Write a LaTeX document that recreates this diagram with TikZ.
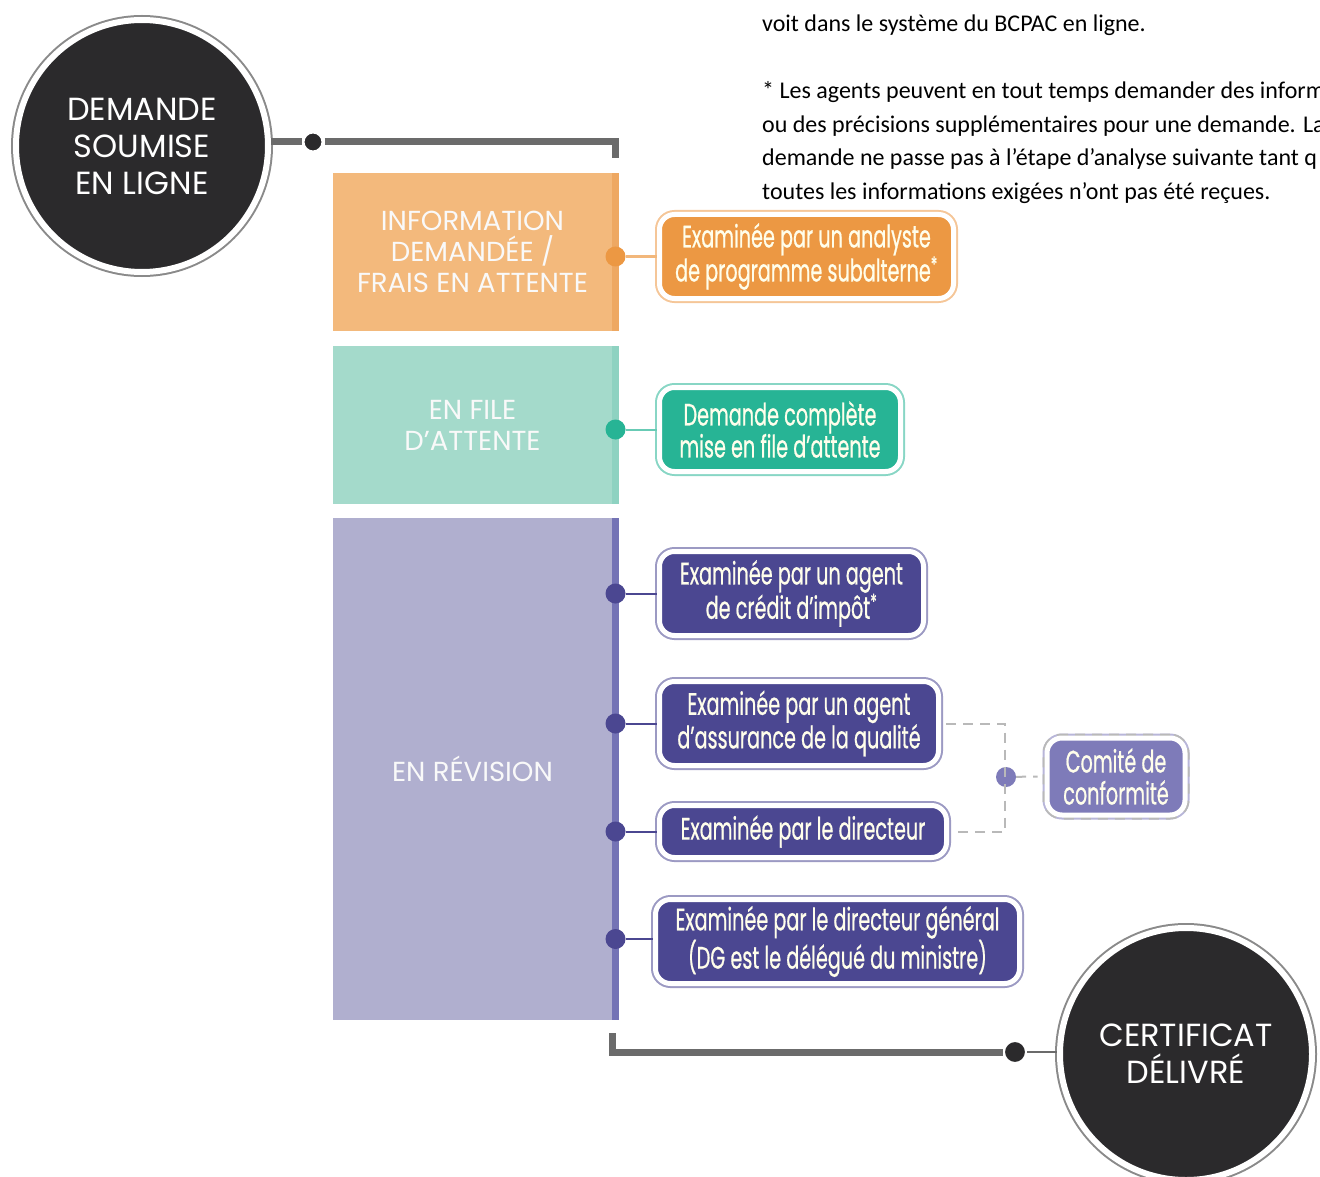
\documentclass[tikz,border=0pt]{standalone}
\usepackage{fontspec}
\setmainfont{Carlito}
\newfontfamily\headfont{Poppins}
\newfontfamily\boxfont[FakeStretch=0.62, FakeBold=0.6]{Poppins}
\usetikzlibrary{positioning}
\definecolor{DarkGrey}{HTML}{2B2A2C}
\definecolor{LineGrey}{HTML}{6B6B6B}
\definecolor{RingGrey}{HTML}{8A8A8A}
\definecolor{OrangeLight}{HTML}{F3B97C}
\definecolor{OrangeStripe}{HTML}{EEA862}
\definecolor{OrangeDark}{HTML}{EC9843}
\definecolor{TealLight}{HTML}{A4DACB}
\definecolor{TealStripe}{HTML}{8ED2C1}
\definecolor{TealDark}{HTML}{27B495}
\definecolor{PurpleLight}{HTML}{B0AFCF}
\definecolor{PurpleStripe}{HTML}{7473B5}
\definecolor{PurpleDark}{HTML}{4B4791}
\definecolor{PurpleMid}{HTML}{7E7BB9}
\tikzset{
	bigcircle/.style={circle, fill=DarkGrey, minimum size=252pt, inner sep=0pt,
		draw=white, line width=6pt, preaction={draw=RingGrey, line width=10pt},
		text=white, align=center, font=\headfont\fontsize{32}{37}\selectfont},
	stage/.style={minimum width=279pt, inner sep=0pt, text=white!95!gray,
		align=center, font=\headfont\fontsize{27.5}{31}\selectfont},
	stepbox/.style={rounded corners=15pt, fill=#1, draw=white, line width=5pt,
		preaction={draw=#1!55, line width=9pt}, inner sep=0pt, minimum height=84pt,
		text=white!92!yellow, align=center, font=\boxfont\fontsize{31}{32}\selectfont},
	dot/.style={circle, fill=#1, inner sep=0pt, minimum size=20pt},
	link/.style={draw=#1, line width=2pt},
	trunk/.style={draw=LineGrey, line width=7pt},
	dashlink/.style={draw=gray!55, line width=2pt, dash pattern=on 10pt off 7pt}
}
\begin{document}
\begin{tikzpicture}[x=1pt, y=-1pt]
	\useasboundingbox (0,0) rectangle (1320,1177);
	\clip (0,0) rectangle (1320,1177);
	% footnote text
	\node[anchor=north west, align=left, inner sep=0pt, font=\fontsize{24}{33.5}\selectfont]
		(note) at (762,15) {voit dans le système du BCPAC en ligne.\\[33.5pt]
		* Les agents peuvent en tout temps demander des inform\\
		ou des précisions supplémentaires pour une demande. La\\
		demande ne passe pas à l’étape d’analyse suivante tant q\\
		toutes les informations exigées n’ont pas été reçues.};
	% stages
	\node[stage, fill=OrangeLight, minimum height=158pt] (info) at (472.5,252)
		{INFORMATION\\DEMANDÉE /\\FRAIS EN ATTENTE};
	\node[stage, fill=TealLight, minimum height=158pt] (queue) at (472.5,425)
		{EN FILE\\D’ATTENTE};
	\node[stage, fill=PurpleLight, minimum height=502pt] (review) at (472.5,769)
		{EN RÉVISION};
	\fill[OrangeStripe] (info.north east) rectangle ([xshift=7pt]info.south east);
	\fill[TealStripe] (queue.north east) rectangle ([xshift=7pt]queue.south east);
	\fill[PurpleStripe] (review.north east) rectangle ([xshift=7pt]review.south east);
	% start and end
	\node[bigcircle] (start) at (142,146) {DEMANDE\\SOUMISE\\EN LIGNE};
	\node[bigcircle] (cert) at (1186,1054) {CERTIFICAT\\DÉLIVRÉ};
	\node[dot=DarkGrey, draw=white, line width=3pt] (d0) at (313,142) {};
	\node[dot=DarkGrey, minimum size=22pt, draw=white, line width=2pt] (d9) at (1015,1052) {};
	\coordinate (c0) at (615,158);
	\coordinate (c9) at (612,1033);
	\draw[trunk] (start.east |- d0) -- (d0);
	\draw[trunk] (d0) -| (c0);
	\draw[trunk] (c9) |- (d9);
	\draw[link=LineGrey] (d9) -- (cert.west |- d9);
	% steps
	\node[stepbox=OrangeDark, minimum width=294pt] (analyst) at (806.5,256.5)
		{Examinée par un analyste\\de programme subalterne\textsuperscript{*}};
	\node[stepbox=TealDark, minimum width=241pt] (complete) at (780,429.5)
		{Demande complète\\mise en file d’attente};
	\node[stepbox=PurpleDark, minimum width=264pt] (credit) at (791.5,593.5)
		{Examinée par un agent\\de crédit d’impôt\textsuperscript{*}};
	\node[stepbox=PurpleDark, minimum width=279pt] (quality) at (799,723.5)
		{Examinée par un agent\\d’assurance de la qualité};
	\node[stepbox=PurpleDark, minimum width=287pt, minimum height=52pt] (director) at (803,831.5)
		{Examinée par le directeur};
	\node[stepbox=PurpleDark, minimum width=364pt] (dg) at (837.5,941.5)
		{Examinée par le directeur général\\(DG est le délégué du ministre)};
	\node[stepbox=PurpleMid, minimum width=138pt, minimum height=77pt,
		preaction={draw=gray!55, line width=9pt, dash pattern=on 10pt off 7pt}] (committee) at (1116,776.5)
		{Comité de\\conformité};
	% dots on the stripes
	\node[dot=OrangeDark] (d1) at (615.5,256.5) {};
	\node[dot=TealDark] (d2) at (615.5,429.5) {};
	\node[dot=PurpleDark] (d3) at (615.5,593.5) {};
	\node[dot=PurpleDark] (d4) at (615.5,723.5) {};
	\node[dot=PurpleDark] (d5) at (615.5,831.5) {};
	\node[dot=PurpleDark] (d6) at (615.5,939) {};
	\draw[link=OrangeDark!70] (d1) -- (analyst);
	\draw[link=TealDark!70] (d2) -- (complete);
	\draw[link=PurpleDark] (d3) -- (credit);
	\draw[link=PurpleDark] (d4) -- (quality);
	\draw[link=PurpleDark] (d5) -- (director);
	\draw[link=PurpleDark] (d6) -- (dg.west |- d6);
	% committee
	\node[dot=PurpleMid] (d7) at (1006,777) {};
	\coordinate (j1) at (1005,723.5);
	\coordinate (j2) at (1005,831.5);
	\draw[dashlink] ([xshift=5pt]quality.east) -- (j1) -- (j2) -- ([xshift=5pt]director.east);
	\draw[dashlink] (d7) -- ([xshift=-7pt]committee.west);
\end{tikzpicture}
\end{document}
